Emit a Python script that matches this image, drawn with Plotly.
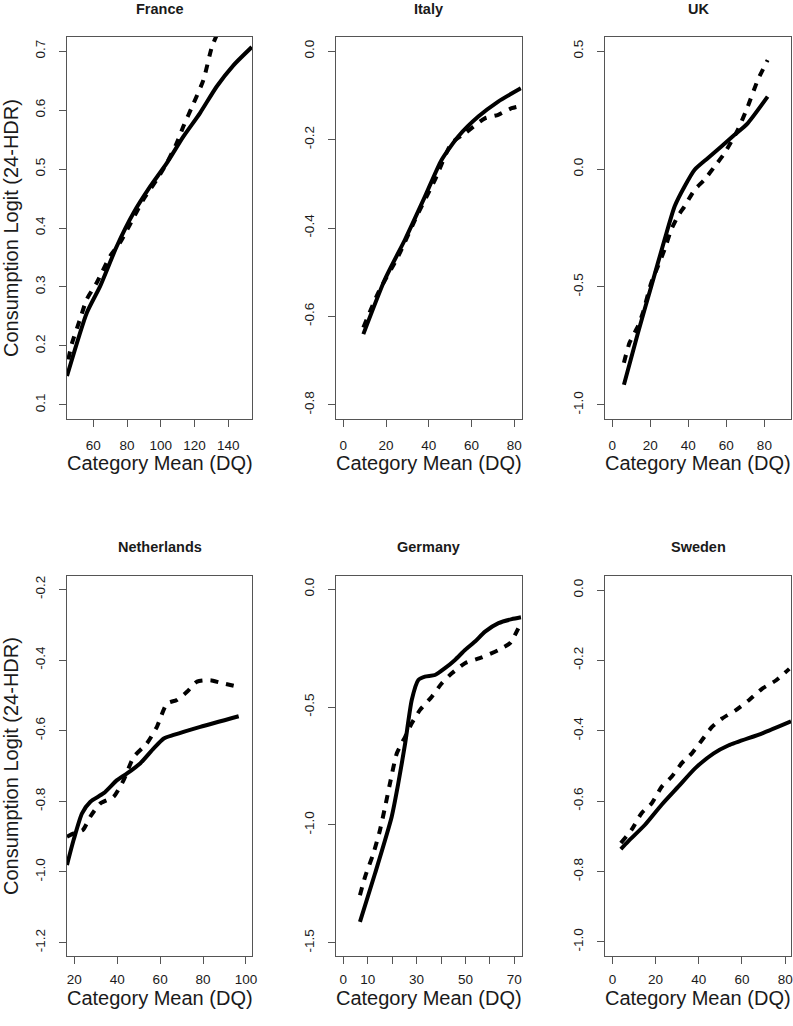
import plotly.graph_objects as go

# ---------------- data ----------------
countries = ["France", "Italy", "UK", "Netherlands", "Germany", "Sweden"]

france_solid_x = [44.4, 56.1, 64.0, 73.9, 83.7, 93.6, 103.5, 113.3, 123.2, 133.1, 143.0, 153.9]
france_solid_y = [0.149, 0.256, 0.301, 0.369, 0.425, 0.470, 0.510, 0.555, 0.595, 0.640, 0.676, 0.707]
france_dash_x = [45.2, 47.2, 52.1, 56.1, 62.0, 69.9, 75.8, 81.7, 89.6, 97.6, 103.5, 109.4, 113.3, 119.3, 125.2, 130.2, 133.1]
france_dash_y = [0.177, 0.203, 0.245, 0.279, 0.307, 0.352, 0.375, 0.406, 0.448, 0.482, 0.510, 0.544, 0.572, 0.611, 0.651, 0.707, 0.727]

italy_solid_x = [9.4, 19.5, 28.9, 38.2, 46.0, 53.8, 63.2, 72.5, 83.1]
italy_solid_y = [-0.640, -0.516, -0.426, -0.329, -0.246, -0.193, -0.148, -0.114, -0.084]
italy_dash_x = [9.4, 16.4, 25.7, 35.1, 42.9, 50.7, 56.9, 66.3, 72.5, 78.8, 83.1]
italy_dash_y = [-0.625, -0.546, -0.464, -0.366, -0.291, -0.208, -0.186, -0.152, -0.144, -0.129, -0.124]

uk_solid_x = [6.1, 13.5, 20.5, 27.5, 32.8, 38.0, 43.3, 50.2, 57.2, 64.3, 71.2, 81.7]
uk_solid_y = [-0.915, -0.694, -0.497, -0.299, -0.158, -0.074, -0.003, 0.046, 0.095, 0.145, 0.194, 0.307]
uk_dash_x = [6.1, 9.1, 13.5, 16.1, 20.5, 24.0, 27.5, 31.0, 34.5, 38.0, 43.3, 48.5, 53.8, 59.0, 66.0, 71.2, 76.5, 81.7]
uk_dash_y = [-0.821, -0.736, -0.666, -0.609, -0.482, -0.412, -0.341, -0.257, -0.200, -0.158, -0.088, -0.045, 0.011, 0.067, 0.166, 0.264, 0.377, 0.462]

nl_solid_x = [16.6, 19.7, 23.6, 27.5, 33.7, 39.9, 44.6, 50.8, 57.0, 61.7, 66.3, 78.7, 96.6]
nl_solid_y = [-0.980, -0.909, -0.834, -0.801, -0.777, -0.740, -0.721, -0.692, -0.650, -0.622, -0.612, -0.589, -0.559]
nl_dash_x = [16.6, 20.0, 24.0, 27.5, 32.1, 38.3, 43.0, 47.7, 53.8, 58.5, 63.2, 67.8, 72.5, 77.2, 83.4, 88.0, 96.6]
nl_dash_y = [-0.900, -0.890, -0.881, -0.843, -0.806, -0.787, -0.740, -0.674, -0.636, -0.589, -0.523, -0.513, -0.490, -0.461, -0.457, -0.464, -0.476]

de_solid_x = [6.8, 13.0, 19.8, 22.5, 25.3, 28.0, 30.7, 33.4, 37.5, 41.6, 45.7, 49.8, 53.9, 58.0, 63.5, 68.9, 72.7]
de_solid_y = [-1.411, -1.205, -0.965, -0.823, -0.654, -0.470, -0.385, -0.371, -0.364, -0.335, -0.300, -0.258, -0.222, -0.180, -0.144, -0.127, -0.119]
de_dash_x = [6.8, 8.9, 12.3, 15.0, 17.1, 19.1, 21.9, 25.3, 28.0, 31.4, 36.2, 40.3, 44.4, 49.8, 56.7, 63.5, 68.2, 71.6]
de_dash_y = [-1.298, -1.220, -1.121, -1.022, -0.923, -0.823, -0.696, -0.626, -0.569, -0.512, -0.456, -0.399, -0.357, -0.314, -0.289, -0.258, -0.229, -0.166]

se_solid_x = [3.9, 7.3, 15.1, 22.8, 30.6, 38.4, 46.9, 53.9, 69.4, 82.7]
se_solid_y = [-0.736, -0.714, -0.667, -0.610, -0.558, -0.506, -0.464, -0.441, -0.407, -0.373]
se_dash_x = [3.9, 8.9, 13.5, 18.2, 22.8, 27.5, 32.1, 36.8, 41.5, 46.1, 50.8, 57.0, 63.2, 69.4, 75.7, 81.9]
se_dash_y = [-0.719, -0.681, -0.634, -0.606, -0.559, -0.530, -0.492, -0.464, -0.426, -0.389, -0.365, -0.342, -0.313, -0.280, -0.257, -0.224]

# tick values / labels
france_xticks = [60, 80, 100, 120, 140]
france_yticks = [0.1, 0.2, 0.3, 0.4, 0.5, 0.6, 0.7]
france_ylabels = ["0.1", "0.2", "0.3", "0.4", "0.5", "0.6", "0.7"]
italy_xticks = [0, 20, 40, 60, 80]
italy_yticks = [0.0, -0.2, -0.4, -0.6, -0.8]
italy_ylabels = ["0.0", "-0.2", "-0.4", "-0.6", "-0.8"]
uk_xticks = [0, 20, 40, 60, 80]
uk_yticks = [0.5, 0.0, -0.5, -1.0]
uk_ylabels = ["0.5", "0.0", "-0.5", "-1.0"]
nl_xticks = [20, 40, 60, 80, 100]
nl_yticks = [-0.2, -0.4, -0.6, -0.8, -1.0, -1.2]
nl_ylabels = ["-0.2", "-0.4", "-0.6", "-0.8", "-1.0", "-1.2"]
de_xticks = [0, 10, 20, 30, 40, 50, 60, 70]
de_xlabels = ["0", "10", "", "30", "", "50", "", "70"]
de_yticks = [0.0, -0.5, -1.0, -1.5]
de_ylabels = ["0.0", "-0.5", "-1.0", "-1.5"]
se_xticks = [0, 20, 40, 60, 80]
se_yticks = [0.0, -0.2, -0.4, -0.6, -0.8, -1.0]
se_ylabels = ["0.0", "-0.2", "-0.4", "-0.6", "-0.8", "-1.0"]

# ---------------- layout geometry ----------------
W, H = 793, 1026
col_px = [(67, 252), (336, 521.7), (605.3, 791.0)]
row_px = [(37, 419), (576, 956)]
row_tick_standoff = [7, 4]
row_xtitle_y = [463, 997.5]
row_title_y = [9, 546.7]

panels = [
    dict(name="France", sx=france_solid_x, sy=france_solid_y, dx=france_dash_x, dy=france_dash_y,
         xr=[44.4, 154.0], yr=[0.076, 0.724], xt=france_xticks, xl=[str(v) for v in france_xticks],
         yt=france_yticks, yl=france_ylabels),
    dict(name="Italy", sx=italy_solid_x, sy=italy_solid_y, dx=italy_dash_x, dy=italy_dash_y,
         xr=[-3.4, 83.5], yr=[-0.832, 0.032], xt=italy_xticks, xl=[str(v) for v in italy_xticks],
         yt=italy_yticks, yl=italy_ylabels),
    dict(name="UK", sx=uk_solid_x, sy=uk_solid_y, dx=uk_dash_x, dy=uk_dash_y,
         xr=[-3.7, 94.0], yr=[-1.06, 0.56], xt=uk_xticks, xl=[str(v) for v in uk_xticks],
         yt=uk_yticks, yl=uk_ylabels),
    dict(name="Netherlands", sx=nl_solid_x, sy=nl_solid_y, dx=nl_dash_x, dy=nl_dash_y,
         xr=[16.6, 102.8], yr=[-1.238, -0.162], xt=nl_xticks, xl=[str(v) for v in nl_xticks],
         yt=nl_yticks, yl=nl_ylabels),
    dict(name="Germany", sx=de_solid_x, sy=de_solid_y, dx=de_dash_x, dy=de_dash_y,
         xr=[-3.0, 73.0], yr=[-1.556, 0.056], xt=de_xticks, xl=de_xlabels,
         yt=de_yticks, yl=de_ylabels),
    dict(name="Sweden", sx=se_solid_x, sy=se_solid_y, dx=se_dash_x, dy=se_dash_y,
         xr=[-3.3, 82.7], yr=[-1.04, 0.04], xt=se_xticks, xl=[str(v) for v in se_xticks],
         yt=se_yticks, yl=se_ylabels),
]

FONT = "Arial, Liberation Sans, sans-serif"
AXC = "#555555"
TXT = "#1a1a1a"

fig = go.Figure()
annotations = []
layout = dict(width=W, height=H, margin=dict(l=0, r=0, t=0, b=0, autoexpand=False),
              paper_bgcolor="white", plot_bgcolor="white", showlegend=False,
              font=dict(family=FONT, color=TXT))

for i, p in enumerate(panels):
    r, c = divmod(i, 3)
    x0, x1 = col_px[c]
    y0, y1 = row_px[r]
    sfx = "" if i == 0 else str(i + 1)
    xa, ya = "x" + sfx, "y" + sfx
    fig.add_trace(go.Scatter(x=p["sx"], y=p["sy"], mode="lines", xaxis=xa, yaxis=ya,
                             line=dict(color="black", width=4, shape="spline", smoothing=0.6)))
    fig.add_trace(go.Scatter(x=p["dx"], y=p["dy"], mode="lines", xaxis=xa, yaxis=ya,
                             line=dict(color="black", width=4, dash="8px,8px", shape="spline", smoothing=0.6)))
    common = dict(showgrid=False, zeroline=False, showline=True, mirror=True, linecolor=AXC,
                  linewidth=1, ticks="outside", ticklen=7, tickwidth=1, tickcolor=AXC,
                  automargin=False,
                  tickfont=dict(family=FONT, size=13.5, color=TXT), fixedrange=True)
    layout["xaxis" + sfx] = dict(common, domain=[x0 / W, x1 / W], anchor=ya, range=p["xr"],
                                 tickmode="array", tickvals=p["xt"], ticktext=p["xl"],
                                 ticklabelstandoff=row_tick_standoff[r])
    layout["yaxis" + sfx] = dict(common, domain=[1 - y1 / H, 1 - y0 / H], anchor=xa, range=p["yr"],
                                 tickmode="array", tickvals=p["yt"], ticktext=p["yl"],
                                 tickangle=-90, ticklabelstandoff=9)
    cx = (x0 + x1) / 2 / W
    annotations.append(dict(text="<b>%s</b>" % p["name"], x=cx, y=1 - row_title_y[r] / H,
                            xref="paper", yref="paper",
                            showarrow=False, xanchor="center", yanchor="middle",
                            font=dict(family=FONT, size=14.5, color=TXT)))
    annotations.append(dict(text="Category Mean (DQ)", x=cx, y=1 - row_xtitle_y[r] / H,
                            xref="paper", yref="paper",
                            showarrow=False, xanchor="center", yanchor="middle",
                            font=dict(family=FONT, size=20, color=TXT)))
    if c == 0:
        cy = (y0 + y1) / 2
        annotations.append(dict(text="Consumption Logit (24-HDR)", x=11 / W, y=1 - cy / H,
                                xref="paper", yref="paper", showarrow=False, textangle=-90,
                                xanchor="center", yanchor="middle",
                                font=dict(family=FONT, size=20, color=TXT)))

layout["annotations"] = annotations
fig.update_layout(**layout)
fig.write_html("out.html", config={"displayModeBar": False},
               post_script="document.body.style.margin='0';document.body.style.overflow='hidden';")
